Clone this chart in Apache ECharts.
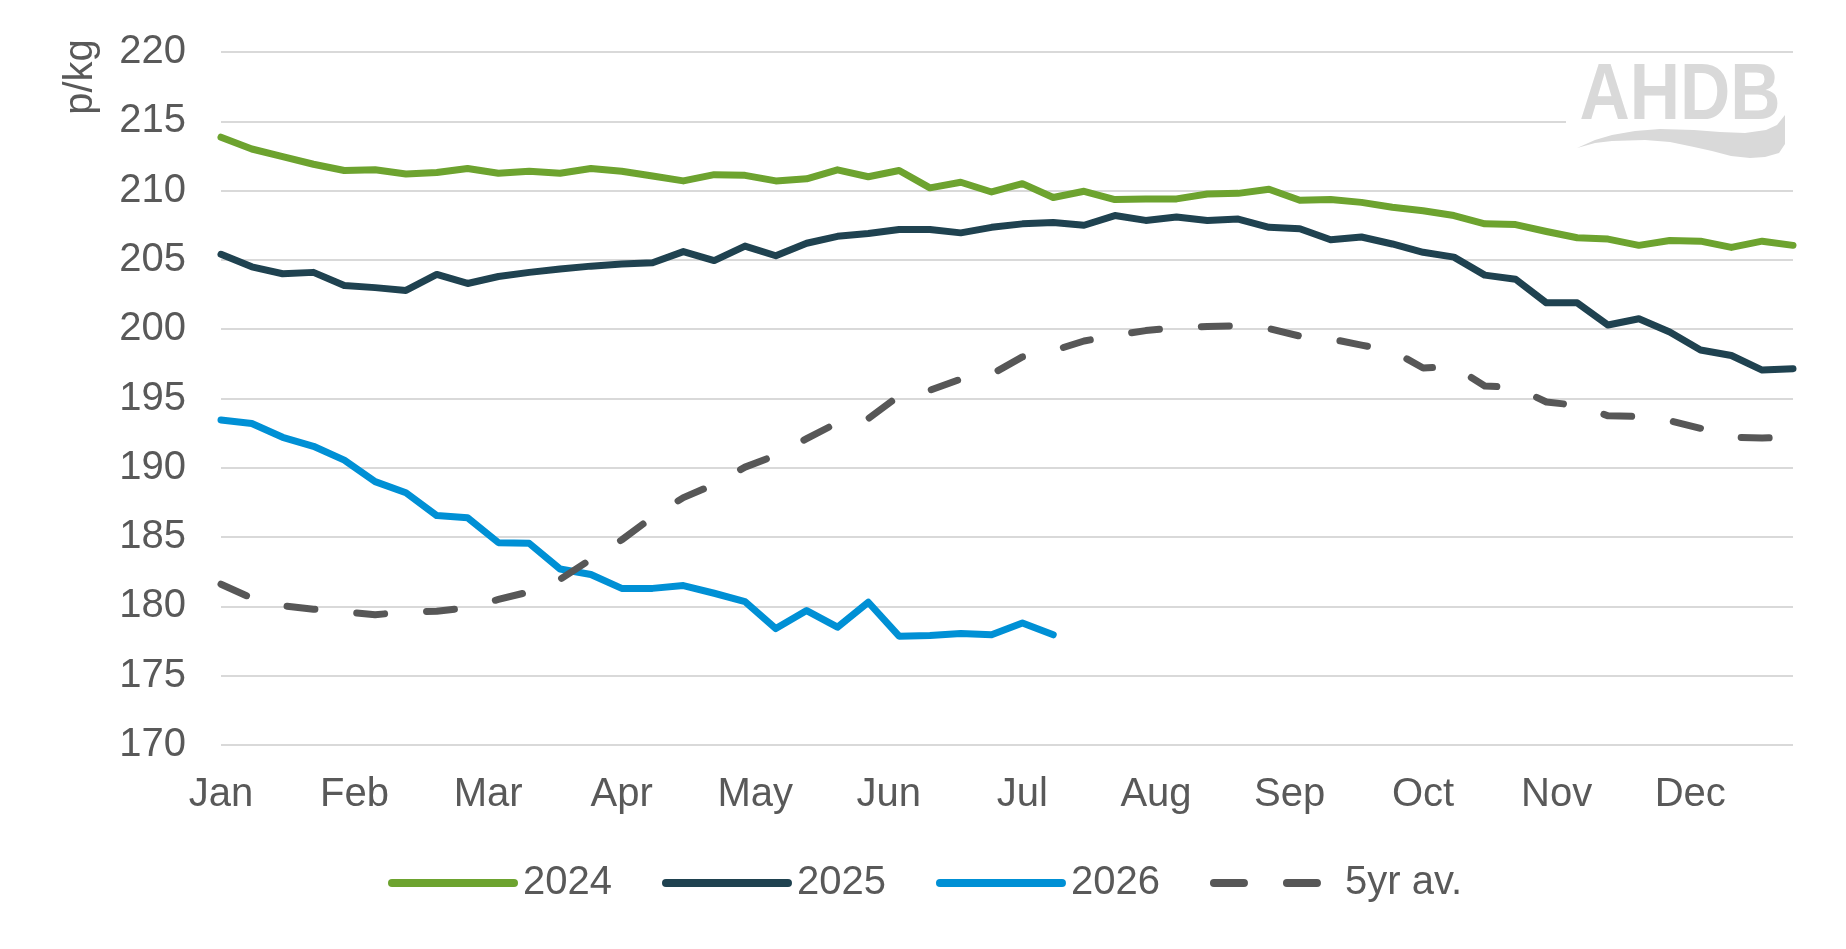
<!DOCTYPE html>
<html>
<head>
<meta charset="utf-8">
<title>p/kg weekly prices</title>
<script src="https://cdn.jsdelivr.net/npm/echarts@6/dist/echarts.min.js"></script>
<style>
html, body { margin: 0; padding: 0; background: #fff; }
#chart { width: 1846px; height: 949px; }
</style>
</head>
<body>
<div id="chart"></div>
<script>
// month labels, one per 52/12 weeks
var months = ['Jan', 'Feb', 'Mar', 'Apr', 'May', 'Jun', 'Jul', 'Aug', 'Sep', 'Oct', 'Nov', 'Dec'];

// weekly prices, p/kg (week 1..52)
var price2024 = [213.85, 213.0, 212.45, 211.9, 211.45, 211.5, 211.2, 211.3, 211.6, 211.25,
    211.4, 211.25, 211.6, 211.4, 211.05, 210.7, 211.15, 211.1, 210.7, 210.85,
    211.5, 211.0, 211.45, 210.2, 210.6, 209.9, 210.5, 209.5, 209.95, 209.35,
    209.4, 209.4, 209.75, 209.8, 210.1, 209.3, 209.35, 209.15, 208.8, 208.55,
    208.2, 207.6, 207.55, 207.05, 206.6, 206.5, 206.05, 206.4, 206.35, 205.9,
    206.35, 206.05];
var price2025 = [205.4, 204.5, 204.0, 204.1, 203.15, 203.0, 202.8, 203.95, 203.3, 203.8,
    204.1, 204.35, 204.55, 204.7, 204.8, 205.6, 204.95, 206.0, 205.3, 206.2,
    206.7, 206.9, 207.2, 207.2, 206.95, 207.35, 207.6, 207.7, 207.5, 208.2,
    207.85, 208.1, 207.85, 207.95, 207.35, 207.25, 206.45, 206.65, 206.15, 205.55,
    205.2, 203.9, 203.6, 201.9, 201.9, 200.3, 200.75, 199.8, 198.5, 198.1,
    197.05, 197.15];
var price2026 = [193.45, 193.2, 192.2, 191.55, 190.55, 189.0, 188.2, 186.55, 186.4, 184.6,
    184.55, 182.7, 182.3, 181.3, 181.3, 181.5, 180.95, 180.35, 178.4, 179.7,
    178.5, 180.3, 177.85, 177.9, 178.05, 177.95, 178.8, 177.95];
var avg5yr = [181.6, 180.6, 180.05, 179.8, 179.6, 179.4, 179.6, 179.65, 179.9, 180.5,
    181.05, 181.95, 183.4, 184.8, 186.45, 187.85, 188.8, 190.05, 190.9, 192.1,
    193.25, 193.55, 195.2, 195.6, 196.4, 196.75, 198.0, 198.45, 199.15, 199.55,
    199.9, 200.1, 200.2, 200.25, 200.05, 199.5, 199.3, 198.85, 198.45, 197.2,
    197.3, 195.9, 195.8, 194.75, 194.5, 193.75, 193.7, 193.4, 192.85, 192.2,
    192.15, 192.2];

var weeksPerMonth = 52 / 12;
var fontFamily = '"Liberation Sans", Arial, sans-serif';
var textColor = '#595959';

function weekly(arr) {
    return arr.map(function (v, i) { return [i, v]; });
}

function lineSeries(name, data, color, dashed) {
    return {
        name: name,
        type: 'line',
        data: weekly(data),
        symbol: 'none',
        showSymbol: false,
        smooth: false,
        lineStyle: {
            color: color,
            width: 7,
            type: dashed ? [28, 42] : 'solid',
            cap: 'round',
            join: 'round'
        },
        itemStyle: { color: color }
    };
}

var chart = echarts.init(document.getElementById('chart'));

var option = {
    animation: false,
    backgroundColor: '#fff',
    grid: {
        left: 221,
        right: 53,
        top: 52,
        bottom: 204,
        containLabel: false,
        outerBoundsMode: 'none'
    },
    xAxis: {
        type: 'value',
        min: 0,
        max: 51,
        interval: weeksPerMonth,
        axisLine: { show: false },
        axisTick: { show: false },
        splitLine: { show: false },
        axisLabel: {
            showMinLabel: true,
            showMaxLabel: false,
            hideOverlap: false,
            margin: 30,
            fontSize: 40,
            fontFamily: fontFamily,
            color: textColor,
            formatter: function (v) {
                return months[Math.round(v / weeksPerMonth)] || '';
            }
        }
    },
    yAxis: {
        type: 'value',
        min: 170,
        max: 220,
        interval: 5,
        axisLine: { show: false },
        axisTick: { show: false },
        splitLine: { lineStyle: { color: '#D9D9D9', width: 2 } },
        axisLabel: {
            margin: 35,
            fontSize: 40,
            fontFamily: fontFamily,
            color: textColor
        }
    },
    legend: {
        left: 383,
        top: 858,
        itemWidth: 122,
        itemHeight: 14,
        itemGap: 50,
        itemStyle: { opacity: 0 },
        lineStyle: { width: 8, cap: 'round' },
        textStyle: { fontSize: 40, fontFamily: fontFamily, color: textColor, padding: [0, 0, 0, 4] },
        data: ['2024', '2025', '2026', { name: '5yr av.', lineStyle: { type: [30, 43] } }]
    },
    series: [
        lineSeries('2024', price2024, '#6DA32F', false),
        lineSeries('2025', price2025, '#1F4250', false),
        lineSeries('2026', price2026, '#0090D5', false),
        lineSeries('5yr av.', avg5yr, '#575757', true)
    ],
    graphic: [
        {
            type: 'text',
            x: 81,
            y: 77,
            rotation: Math.PI / 2,
            style: {
                text: 'p/kg',
                fontSize: 40,
                fontFamily: fontFamily,
                fill: textColor,
                align: 'center',
                verticalAlign: 'middle'
            }
        },
        {
            type: 'rect',
            z: 10,
            shape: { x: 1566, y: 58, width: 230, height: 104 },
            style: { fill: '#fff' }
        },
        {
            type: 'text',
            z: 11,
            x: 1680,
            y: 97,
            scaleX: 0.87,
            style: {
                text: 'AHDB',
                fontSize: 80,
                fontWeight: 'bold',
                fontFamily: fontFamily,
                fill: '#D9D9D9',
                align: 'center',
                verticalAlign: 'middle'
            }
        },
        {
            // logo swoosh
            type: 'polygon',
            z: 11,
            shape: {
                points: [[1577, 148], [1595, 140], [1612, 135], [1635, 131], [1660, 129],
                    [1694, 130], [1720, 132], [1745, 133], [1766, 130], [1777, 125], [1785, 115],
                    [1785, 144], [1779, 153], [1765, 157], [1750, 158], [1731, 156], [1712, 151],
                    [1694, 147], [1670, 142], [1645, 140], [1612, 141], [1595, 143]]
            },
            style: { fill: '#D9D9D9' }
        }
    ]
};

chart.setOption(option);
</script>
</body>
</html>
